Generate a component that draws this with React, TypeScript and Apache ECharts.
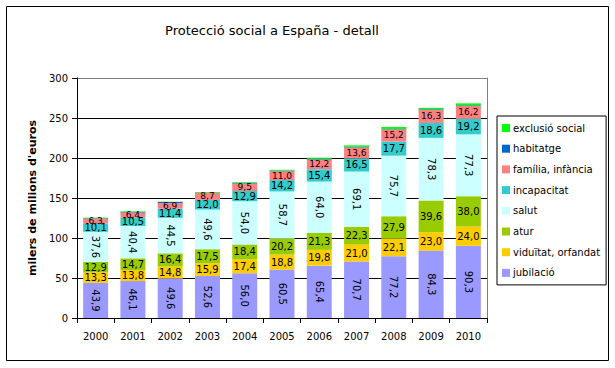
import React, { useEffect, useRef } from "react";
import * as echarts from "echarts";

const years = ["2000", "2001", "2002", "2003", "2004", "2005", "2006", "2007", "2008", "2009", "2010"];
const jubilacio = [43.9, 46.1, 49.6, 52.6, 56.0, 60.5, 65.4, 70.7, 77.2, 84.3, 90.3];
const viduitat = [13.3, 13.8, 14.8, 15.9, 17.4, 18.8, 19.8, 21.0, 22.1, 23.0, 24.0];
const atur = [12.9, 14.7, 16.4, 17.5, 18.4, 20.2, 21.3, 22.3, 27.9, 39.6, 38.0];
const salut = [37.6, 40.4, 44.5, 49.6, 54.0, 58.7, 64.0, 69.1, 75.7, 78.3, 77.3];
const incapacitat = [10.1, 10.5, 11.4, 12.0, 12.9, 14.2, 15.4, 16.5, 17.7, 18.6, 19.2];
const familia = [6.3, 6.4, 6.9, 8.7, 9.5, 11.0, 12.2, 13.6, 15.2, 16.3, 16.2];
const habitatge = [0.6, 0.6, 1.5, 0.4, 0.6, 0.8, 0.8, 0.8, 0.5, 0.8, 0.8];
const exclusio = [0.7, 0.8, 0.3, 0.8, 1.0, 1.0, 1.5, 1.8, 2.5, 1.8, 2.5];
const yTicks = [0, 50, 100, 150, 200, 250, 300];

const FONT = "DejaVu Sans";

const seriesDefs = [
  { name: "jubilació", data: jubilacio, color: "#9999FF", label: true, rotate: -90, size: 10 },
  { name: "viduïtat, orfandat", data: viduitat, color: "#FFCC00", label: true, rotate: 0, size: 10 },
  { name: "atur", data: atur, color: "#99CC00", label: true, rotate: 0, size: 10 },
  { name: "salut", data: salut, color: "#CCFFFF", label: true, rotate: -90, size: 10 },
  { name: "incapacitat", data: incapacitat, color: "#33CCCC", label: true, rotate: 0, size: 10 },
  { name: "família, infància", data: familia, color: "#FF8080", label: true, rotate: 0, size: 9 },
  { name: "habitatge", data: habitatge, color: "#0066CC", label: false, rotate: 0, size: 10 },
  { name: "exclusió social", data: exclusio, color: "#00FF00", label: false, rotate: 0, size: 10 },
];

export default function App() {
  const ref = useRef<HTMLDivElement>(null);
  useEffect(() => {
    if (!ref.current) return;
    const chart = echarts.init(ref.current, null, { renderer: "svg" });
    chart.setOption({
      animation: false,
      backgroundColor: "#ffffff",
      textStyle: { fontFamily: FONT },
      title: {
        text: "Protecció social a España - detall",
        left: 267,
        top: 19,
        textAlign: "center",
        textStyle: { fontFamily: FONT, fontSize: 13, fontWeight: "normal", color: "#000" },
      },
      graphic: [
        {
          type: "rect",
          shape: { x: 6.5, y: 6.5, width: 602, height: 354 },
          style: { fill: "none", stroke: "#000", lineWidth: 1 },
          silent: true,
        },
      ],
      legend: {
        orient: "vertical",
        left: 497,
        top: 116,
        width: 100,
        itemWidth: 8,
        itemHeight: 8,
        itemGap: 10.7,
        padding: [7, 6, 7, 5],
        borderColor: "#000",
        borderWidth: 1,
        icon: "rect",
        textStyle: { fontFamily: FONT, fontSize: 10, color: "#000", padding: [0, 0, 0, -2] },
        data: seriesDefs.map((s) => s.name).reverse(),
      },
      grid: { left: 77, right: 128, top: 78, bottom: 50, containLabel: false },
      xAxis: {
        type: "category",
        data: years,
        axisLine: { lineStyle: { color: "#000" } },
        axisTick: { show: true, length: 5, alignWithLabel: false, lineStyle: { color: "#000" } },
        axisLabel: { color: "#000", fontFamily: FONT, fontSize: 10, margin: 13 },
      },
      yAxis: [
        {
          type: "value",
          min: 0,
          max: 300,
          interval: 50,
          name: "milers de milions d'euros",
          nameLocation: "middle",
          nameGap: 36,
          nameTextStyle: { fontFamily: FONT, fontSize: 11, fontWeight: "bold", color: "#000" },
          axisLine: { show: true, lineStyle: { color: "#000" } },
          axisTick: { show: true, length: 5, lineStyle: { color: "#000" } },
          axisLabel: { color: "#000", fontFamily: FONT, fontSize: 10, margin: 9, formatter: (v: number) => (yTicks.includes(v) ? String(v) : "") },
          splitLine: {
            show: true,
            lineStyle: { color: ["#000", "#000", "#000", "#000", "#000", "#000", "#808080"], width: 1 },
          },
        },
        {
          type: "value",
          min: 0,
          max: 300,
          interval: 50,
          position: "right",
          axisLine: { show: true, lineStyle: { color: "#808080" } },
          axisTick: { show: false },
          axisLabel: { show: false },
          splitLine: { show: false },
        },
      ],
      series: seriesDefs.map((s) => ({
        name: s.name,
        type: "bar",
        stack: "total",
        data: s.data,
        barCategoryGap: "33%",
        itemStyle: { color: s.color },
        label: {
          show: s.label,
          position: "inside",
          rotate: s.rotate,
          color: "#000",
          fontFamily: FONT,
          fontSize: s.size,
          formatter: (p: any) => Number(p.value).toFixed(1).replace(".", ","),
        },
      })),
    });
    return () => chart.dispose();
  }, []);
  return (
    <div
      ref={ref}
      style={{ position: "fixed", left: 0, top: 0, width: 615, height: 368 }}
    />
  );
}
